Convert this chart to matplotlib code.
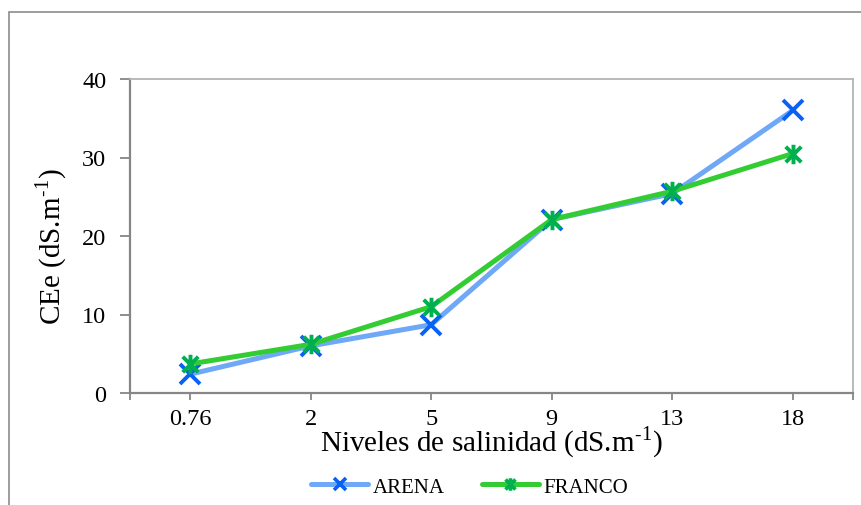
import matplotlib
matplotlib.use("Agg")
import matplotlib.pyplot as plt
from matplotlib.path import Path
from matplotlib.patches import Rectangle
import numpy as np

categories = ["0.76", "2", "5", "9", "13", "18"]
arena = [2.4, 6.0, 8.7, 22.1, 25.4, 36.0]
franco = [3.7, 6.2, 11.0, 22.1, 25.7, 30.5]
yticks = [0, 10, 20, 30, 40]

plt.rcParams['font.family'] = ['Liberation Serif', 'DejaVu Serif']
plt.rcParams['mathtext.fontset'] = 'stix'

W, H = 862, 506
fig = plt.figure(figsize=(W / 100, H / 100), dpi=100)

# outer chart border
fig.patches.append(Rectangle((9 / W, -0.05), 1.2, (H - 13) / H + 0.05,
                             transform=fig.transFigure, fill=False,
                             edgecolor="#8c8c8c", linewidth=1.2))

ax = fig.add_axes([130 / W, 1 - 394 / H, (853 - 130) / W, (394 - 80) / H])

x = np.arange(len(categories))

# asterisk marker: X with vertical bar
ast = Path([(-1, -1), (1, 1), (-1, 1), (1, -1), (0, -1.25), (0, 1.25)],
           [Path.MOVETO, Path.LINETO, Path.MOVETO, Path.LINETO, Path.MOVETO, Path.LINETO])

ax.plot(x, arena, color="#6fa8f7", linewidth=3.6, marker="x", markersize=15,
        markeredgewidth=2.8, markeredgecolor="#0a62f5", label="ARENA",
        solid_capstyle="round", zorder=3)
ax.plot(x, franco, color="#33cc33", linewidth=3.6, marker=ast, markersize=14,
        markeredgewidth=2.8, markeredgecolor="#00b04f", label="FRANCO",
        solid_capstyle="round", zorder=4)

ax.set_xlim(-0.5, len(categories) - 0.5)
ax.set_ylim(0, 40)
ax.set_xticks(x)
ax.set_xticklabels(categories)
ax.set_xticks([-0.5, len(categories) - 0.5], minor=True)
ax.set_yticks(yticks)
ax.tick_params(axis="both", which="both", direction="out", colors="#868686",
               labelcolor="black", labelsize=17.5, width=1.3)
ax.tick_params(axis="y", length=7, pad=10)
ax.tick_params(axis="x", which="both", length=5, pad=6)

for side in ["left", "bottom"]:
    ax.spines[side].set_color("#868686")
    ax.spines[side].set_linewidth(1.6)
for side in ["top", "right"]:
    ax.spines[side].set_color("#b4b4b4")
    ax.spines[side].set_linewidth(1.3)

ax.set_xlabel(r"Niveles de salinidad (dS.m$^{\mathregular{\text{-}1}}$)", fontsize=21)
ax.xaxis.set_label_coords(0.5, -0.1)
ax.set_ylabel(r"CEe (dS.m$^{\mathregular{\text{-}1}}$)", fontsize=21)
ax.yaxis.set_label_coords(-0.084, 0.47)

leg = fig.legend(loc="center", bbox_to_anchor=(470 / W, 1 - 488 / H), ncol=2,
                 frameon=False, fontsize=15, handlelength=2.7, columnspacing=1.8,
                 handletextpad=0.25, borderpad=0)
for line in leg.get_lines():
    line.set_markersize(9)
    line.set_markeredgewidth(2.6)

fig.savefig("out.png", dpi=100)
